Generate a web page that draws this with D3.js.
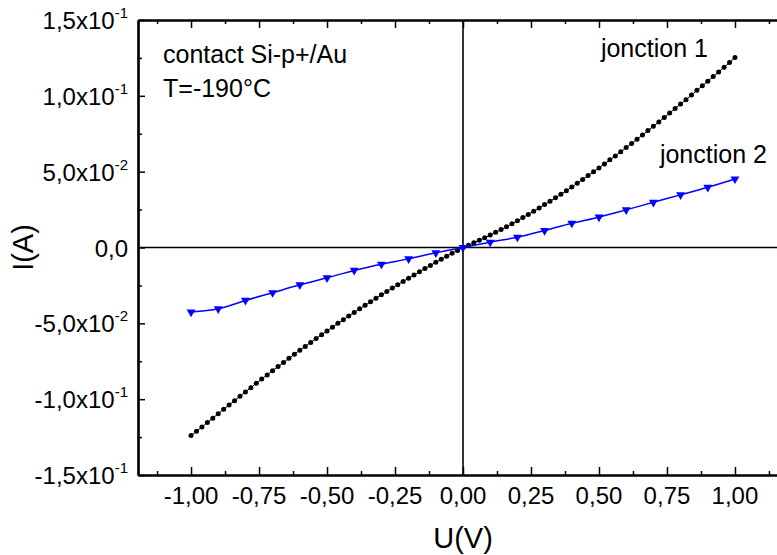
<!DOCTYPE html>
<html>
<head>
<meta charset="utf-8">
<script src="https://cdn.jsdelivr.net/npm/d3@7"></script>
<style>
  html, body { margin: 0; padding: 0; background: #fff; }
  svg { display: block; font-family: "Liberation Sans", Arial, sans-serif; }
</style>
</head>
<body>
<svg id="chart" width="777" height="555"></svg>
<script>
// ---- data ----
// jonction 1 : U from -1.00 to 1.00 V, step 0.02 V
const j1U = d3.range(101).map(i => +(-1 + i * 0.02).toFixed(2));
const j1I = [
  -0.1240, -0.1212, -0.1183, -0.1154, -0.1125, -0.1096, -0.1067, -0.1038, -0.1010, -0.0981,
  -0.0952, -0.0924, -0.0895, -0.0867, -0.0840, -0.0812, -0.0785, -0.0758, -0.0731, -0.0704,
  -0.0678, -0.0652, -0.0626, -0.0600, -0.0575, -0.0550, -0.0525, -0.0500, -0.0476, -0.0452,
  -0.0428, -0.0404, -0.0381, -0.0358, -0.0335, -0.0312, -0.0290, -0.0267, -0.0245, -0.0224,
  -0.0202, -0.0181, -0.0160, -0.0139, -0.0118, -0.0098, -0.0078, -0.0058, -0.0038, -0.0019,
   0.0000,
   0.0015,  0.0031,  0.0047,  0.0064,  0.0082,  0.0100,  0.0118,  0.0137,  0.0157,  0.0176,
   0.0197,  0.0218,  0.0239,  0.0260,  0.0283,  0.0305,  0.0328,  0.0351,  0.0375,  0.0399,
   0.0424,  0.0448,  0.0474,  0.0499,  0.0525,  0.0551,  0.0578,  0.0604,  0.0631,  0.0659,
   0.0686,  0.0714,  0.0742,  0.0771,  0.0799,  0.0828,  0.0857,  0.0887,  0.0916,  0.0946,
   0.0975,  0.1005,  0.1036,  0.1066,  0.1096,  0.1127,  0.1157,  0.1188,  0.1219,  0.1252
];
// jonction 2 : U from -1.0 to 1.0 V, step 0.1 V
const j2U = [-1.0, -0.9, -0.8, -0.7, -0.6, -0.5, -0.4, -0.3, -0.2, -0.1, 0.0,
              0.1, 0.2, 0.3, 0.4, 0.5, 0.6, 0.7, 0.8, 0.9, 1.0];
const j2I = [-0.0426, -0.0404, -0.0349, -0.0298, -0.0246, -0.0200, -0.0151, -0.0110, -0.0075, -0.0035, 0.0000,
              0.0035, 0.0068, 0.0112, 0.0160, 0.0200, 0.0248, 0.0298, 0.0347, 0.0397, 0.0452];

const xTickValues = [-1.00, -0.75, -0.50, -0.25, 0.00, 0.25, 0.50, 0.75, 1.00];
const xTickLabels = ["-1,00", "-0,75", "-0,50", "-0,25", "0,00", "0,25", "0,50", "0,75", "1,00"];
const xMinorValues = [-1.125, -0.875, -0.625, -0.375, -0.125, 0.125, 0.375, 0.625, 0.875, 1.125];
const yTickValues = [-0.15, -0.10, -0.05, 0.00, 0.05, 0.10, 0.15];
const yTickMant = ["-1,5x10", "-1,0x10", "-5,0x10", "0,0", "5,0x10", "1,0x10", "1,5x10"];
const yTickExp = ["-1", "-1", "-2", "", "-2", "-1", "-1"];
const yMinorValues = [-0.125, -0.075, -0.025, 0.025, 0.075, 0.125];

const annotations = [
  { text: "contact Si-p+/Au", u: -1.103, i: 0.1216 },
  { text: "T=-190°C", u: -1.103, i: 0.0994 },
  { text: "jonction 1", u: 0.507, i: 0.1256 },
  { text: "jonction 2", u: 0.724, i: 0.0557 }
];

// ---- layout ----
const svg = d3.select("#chart");
const pLeft = 138, pTop = 20, pBottom = 475, pRight = 788;
const x = d3.scaleLinear().domain([-1.195, 1.195]).range([pLeft, pRight]);
const y = d3.scaleLinear().domain([-0.15, 0.15]).range([pBottom, pTop]);

const fontTick = 24;

// zero lines
svg.append("line").attr("x1", pLeft).attr("x2", pRight)
  .attr("y1", y(0)).attr("y2", y(0)).attr("stroke", "#000").attr("stroke-width", 1.6);
svg.append("line").attr("x1", x(0)).attr("x2", x(0))
  .attr("y1", pTop).attr("y2", pBottom).attr("stroke", "#000").attr("stroke-width", 1.6);

// axes (ticks inward)
function styleAxis(g) {
  g.select(".domain").attr("stroke", "#000").attr("stroke-width", 2.2);
  g.selectAll(".tick line").attr("stroke", "#000").attr("stroke-width", 1.5);
  g.selectAll("text").remove();
}
const bottomMajor = d3.axisTop(x).tickValues(xTickValues).tickSize(8).tickSizeOuter(0);
const bottomMinor = d3.axisTop(x).tickValues(xMinorValues).tickSize(4).tickSizeOuter(0);
svg.append("g").attr("transform", `translate(0,${pBottom})`).call(bottomMajor).call(styleAxis);
svg.append("g").attr("transform", `translate(0,${pBottom})`).call(bottomMinor).call(styleAxis);
const topMajor = d3.axisBottom(x).tickValues(xTickValues).tickSize(8).tickSizeOuter(0);
const topMinor = d3.axisBottom(x).tickValues(xMinorValues).tickSize(4).tickSizeOuter(0);
svg.append("g").attr("transform", `translate(0,${pTop})`).call(topMajor).call(styleAxis);
svg.append("g").attr("transform", `translate(0,${pTop})`).call(topMinor).call(styleAxis);
const leftMajor = d3.axisRight(y).tickValues(yTickValues).tickSize(7).tickSizeOuter(0);
const leftMinor = d3.axisRight(y).tickValues(yMinorValues).tickSize(4).tickSizeOuter(0);
svg.append("g").attr("transform", `translate(${pLeft},0)`).call(leftMajor).call(styleAxis);
svg.append("g").attr("transform", `translate(${pLeft},0)`).call(leftMinor).call(styleAxis);

// x tick labels
svg.append("g").selectAll("text").data(xTickValues).join("text")
  .attr("x", d => x(d)).attr("y", pBottom + 29)
  .attr("text-anchor", "middle").attr("font-size", fontTick).attr("fill", "#000")
  .text((d, i) => xTickLabels[i]);

// y tick labels with superscript exponents
const yl = svg.append("g").selectAll("text").data(yTickValues).join("text")
  .attr("x", 128).attr("y", d => y(d) + 9)
  .attr("text-anchor", "end").attr("font-size", fontTick).attr("fill", "#000");
yl.append("tspan").text((d, i) => yTickMant[i]);
yl.append("tspan").attr("font-size", 15).attr("dy", -11).text((d, i) => yTickExp[i]);

// axis titles
svg.append("text").attr("x", x(0)).attr("y", 548).attr("text-anchor", "middle")
  .attr("font-size", 29).attr("fill", "#000").text("U(V)");
svg.append("text").attr("transform", `translate(33,${y(0)}) rotate(-90)`)
  .attr("text-anchor", "middle").attr("font-size", 29).attr("fill", "#000").text("I(A)");

// jonction 1 : black dots with thin line
const j1 = j1U.map((u, k) => [u, j1I[k]]);
svg.append("path").datum(j1)
  .attr("d", d3.line().x(d => x(d[0])).y(d => y(d[1])))
  .attr("fill", "none").attr("stroke", "#000").attr("stroke-width", 1);
svg.append("g").selectAll("circle").data(j1).join("circle")
  .attr("cx", d => x(d[0])).attr("cy", d => y(d[1])).attr("r", 2.5).attr("fill", "#000");

// jonction 2 : blue line with down triangles
const j2 = j2U.map((u, k) => [u, j2I[k]]);
svg.append("path").datum(j2)
  .attr("d", d3.line().curve(d3.curveCatmullRom).x(d => x(d[0])).y(d => y(d[1])))
  .attr("fill", "none").attr("stroke", "#0000ff").attr("stroke-width", 1.5);
const tri = d3.symbol().type(d3.symbolTriangle).size(34);
svg.append("g").selectAll("path").data(j2).join("path")
  .attr("d", tri)
  .attr("transform", d => `translate(${x(d[0])},${y(d[1])}) rotate(180)`)
  .attr("fill", "#0000ff");

// annotations
svg.append("g").selectAll("text").data(annotations).join("text")
  .attr("x", d => x(d.u)).attr("y", d => y(d.i))
  .attr("font-size", 25).attr("fill", "#000").text(d => d.text);
</script>
</body>
</html>
